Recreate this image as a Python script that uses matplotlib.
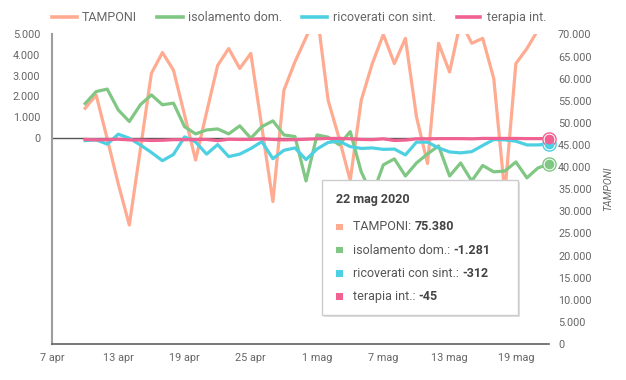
import matplotlib
matplotlib.use("Agg")
import matplotlib.pyplot as plt
from matplotlib.patches import Rectangle
from matplotlib.lines import Line2D
import pandas as pd

plt.rcParams['font.family'] = ['Roboto', 'DejaVu Sans']

# dati giornalieri 10 apr - 22 mag 2020
giorni = pd.date_range("2020-04-10", "2020-05-22")

tamponi = [53300, 56300, 46400, 36200, 26900, 44000, 61200, 65900, 61900, 51800,
           41600, 52400, 63000, 66800, 62300, 65700, 49000, 32200, 57400, 63800,
           69300, 74800, 55100, 46500, 37000, 55100, 63400, 70000, 63400, 69100,
           51400, 40800, 68000, 61500, 73000, 68000, 69100, 60000, 34000, 63400,
           66800, 71000, 75380]
isolamento = [1650, 2230, 2350, 1340, 780, 1590, 2070, 1590, 1670, 530,
              180, 370, 420, 180, 570, -30, 530, 810, 130, 50,
              -2100, 130, 20, -350, 290, -1660, -2790, -1320, -1030, -1860,
              -1230, -790, -400, -1860, -1230, -2100, -1350, -1660, -1620, -1180,
              -1950, -1470, -1281]
ricoverati = [-145, -110, -315, 165, -30, -355, -720, -1120, -815, 35,
              -210, -800, -340, -920, -800, -530, -195, -1020, -615, -500,
              -1065, -550, -235, -175, -435, -525, -500, -570, -555, -840,
              -220, -220, -500, -695, -740, -680, -380, -95, -110, -175,
              -355, -355, -312]
terapia = [-90, -110, -100, -80, -110, -120, -140, -130, -100, -100,
           -100, -90, -150, -80, -90, -90, -60, -90, -110, -100,
           -80, -60, -40, -40, -60, -90, -100, -60, -140, -120,
           -60, -60, -50, -50, -50, -60, -40, -40, -40, -40,
           -50, -50, -45]

nomi = ["TAMPONI", "isolamento dom.", "ricoverati con sint.", "terapia int."]
colori = ["#ffab91", "#81c784", "#4dd0e1", "#f06292"]
mesi = {4: "apr", 5: "mag"}

W, H = 626, 380
grigio = "#666666"

fig = plt.figure(figsize=(W / 100, H / 100), dpi=100)
ax = fig.add_axes([52 / W, 1 - 344 / H, (549 - 52) / W, (344 - 34.4) / H])
ax2 = ax.twinx()
ax.set_zorder(2)
ax2.set_zorder(1)
ax.patch.set_visible(False)

lw = 2.3
ax2.plot(giorni, tamponi, color=colori[0], lw=lw)
ax.axhline(0, color="#555555", lw=1, zorder=1)
ax.plot(giorni, isolamento, color=colori[1], lw=lw)
ax.plot(giorni, ricoverati, color=colori[2], lw=lw)
ax.plot(giorni, terapia, color=colori[3], lw=lw)

# punti evidenziati a fine serie
for serie, c in [(isolamento, colori[1]), (ricoverati, colori[2]), (terapia, colori[3])]:
    ax.plot(giorni[-1], serie[-1], "o", ms=9.5, mfc="white", mec=c, mew=1, clip_on=False, zorder=5)
    ax.plot(giorni[-1], serie[-1], "o", ms=6, color=c, clip_on=False, zorder=6)

ax.set_xlim(pd.Timestamp("2020-04-07"), pd.Timestamp("2020-05-22"))
ax.set_ylim(-10000, 5000)
ax2.set_ylim(0, 70000)

xt = pd.date_range("2020-04-07", periods=8, freq="6D")
ax.set_xticks(xt)
ax.set_xticklabels([f"{d.day} {mesi[d.month]}" for d in xt])
yt = list(range(0, 5001, 1000))
ax.set_yticks(yt)
ax.set_yticklabels([f"{v:,}".replace(",", ".") for v in yt])
yt2 = list(range(0, 70001, 5000))
ax2.set_yticks(yt2)
ax2.set_yticklabels([f"{v:,}".replace(",", ".") for v in yt2])

ax.tick_params(axis="x", length=0, pad=6.5, labelsize=7.8, labelcolor=grigio)
ax.tick_params(axis="y", length=0, pad=8.5, labelsize=7.8, labelcolor=grigio)
ax2.tick_params(axis="y", length=0, pad=6.5, labelsize=7.8, labelcolor=grigio)

for s in ["top", "right"]:
    ax.spines[s].set_visible(False)
for s in ax2.spines.values():
    s.set_visible(False)
ax.spines["left"].set_color("#9e9e9e")
ax.spines["left"].set_linewidth(1.5)
ax.spines["bottom"].set_color("#616161")
ax.spines["bottom"].set_linewidth(1.2)

fig.text(608 / W, 1 - 189 / H, "TAMPONI", rotation=90, fontstyle="italic",
         fontsize=7.5, color=grigio, ha="center", va="center")

# legenda in alto
leg = [(51.7, 77.3, 81.7), (156.7, 182.7, 188.3), (301.7, 326.7, 333.3), (456.7, 480, 486.7)]
for (x0, x1, xt_), nome, c in zip(leg, nomi, colori):
    fig.add_artist(Line2D([x0 / W, x1 / W], [1 - 17.3 / H] * 2, color=c, lw=2.6,
                          transform=fig.transFigure))
    fig.text(xt_ / W, 1 - 17.3 / H, nome, fontsize=9, color=grigio, va="center", ha="left")

# segno rosa sull'asse sinistro
fig.add_artist(Line2D([52 / W] * 2, [1 - 60 / H, 1 - 72 / H], color="#f8bbd0", lw=1.5,
                      transform=fig.transFigure))

# tooltip
tx0, tx1, ty0, ty1 = 322, 518, 180, 315
fig.add_artist(Rectangle(((tx0 + 1.5) / W, 1 - (ty1 + 2) / H), (tx1 - tx0) / W, (ty1 - ty0) / H,
                         transform=fig.transFigure, facecolor="#000000", alpha=0.12,
                         edgecolor="none", zorder=10))
fig.add_artist(Rectangle((tx0 / W, 1 - ty1 / H), (tx1 - tx0) / W, (ty1 - ty0) / H,
                         transform=fig.transFigure, facecolor="white",
                         edgecolor="#cccccc", lw=1, zorder=11))
fig.text(336 / W, 1 - 200 / H, "22 mag 2020", fontsize=9, fontweight="bold",
         color="#444444", va="center", zorder=12)

fig.canvas.draw()
renderer = fig.canvas.get_renderer()
valori = [tamponi[-1], isolamento[-1], ricoverati[-1], terapia[-1]]
for i, (nome, c, v) in enumerate(zip(nomi, colori, valori)):
    y = 227 + i * 23.2
    fig.add_artist(Rectangle((336 / W, 1 - (y + 3.2) / H), 6.5 / W, 6.5 / H,
                             transform=fig.transFigure, facecolor=c, edgecolor="none", zorder=12))
    t = fig.text(353 / W, 1 - y / H, nome + ": ", fontsize=9, color="#555555",
                 va="center", zorder=12)
    bb = t.get_window_extent(renderer)
    fig.text(bb.x1 / W, 1 - y / H, f"{v:,}".replace(",", "."), fontsize=9,
             fontweight="bold", color="#444444", va="center", zorder=12)

fig.savefig("out.png", dpi=100)
